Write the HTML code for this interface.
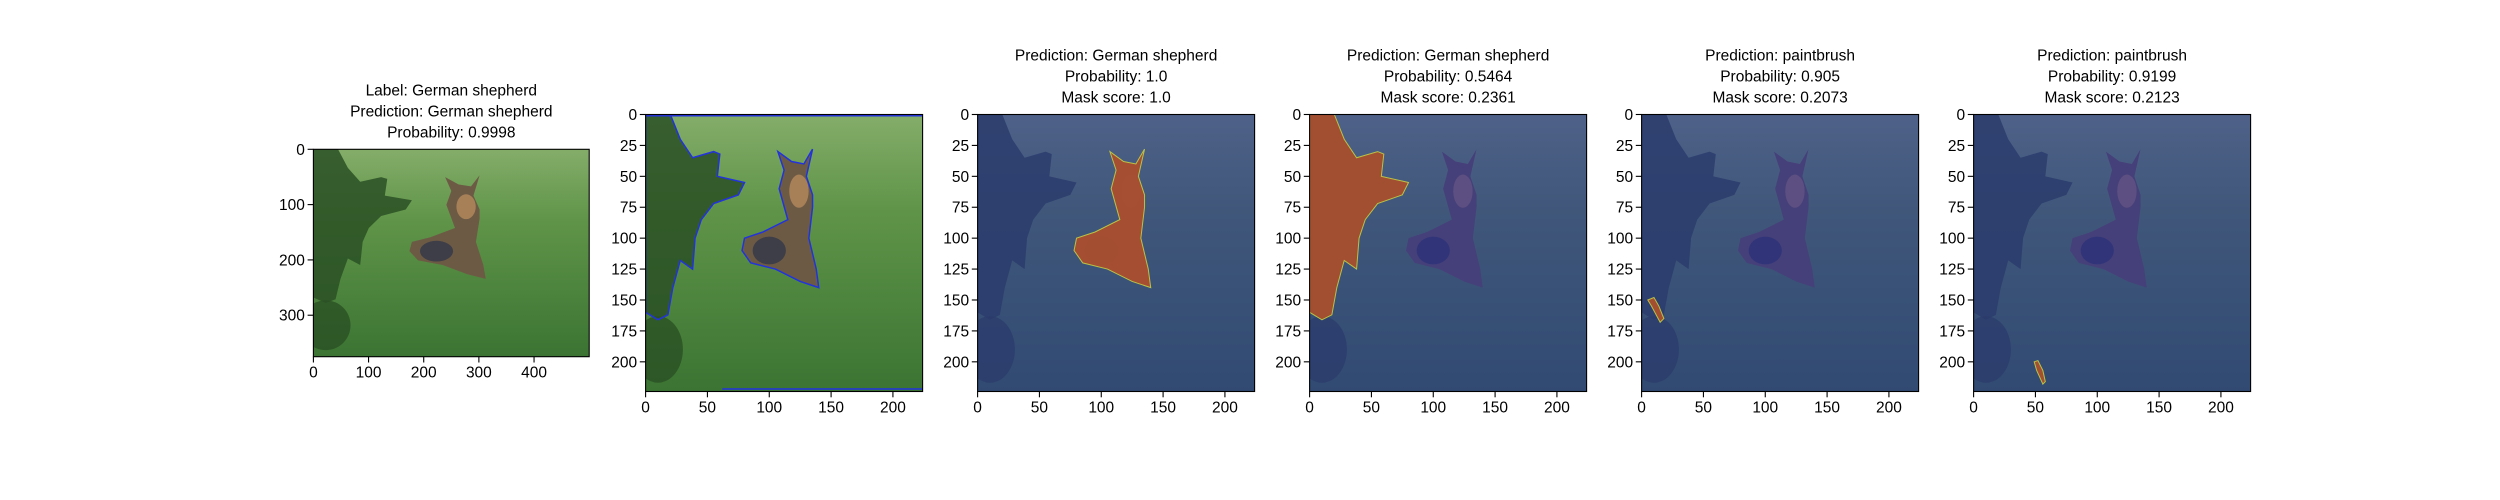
<!DOCTYPE html>
<html><head><meta charset="utf-8">
<style>
html,body{margin:0;padding:0;background:#fff;}
svg{display:block;}
text{font-family:"Liberation Sans","DejaVu Sans",sans-serif;font-size:15.5px;fill:#000;}
</style></head>
<body>
<svg id="fig" width="2500" height="500" viewBox="0 0 2500 500"></svg>
<script>
// ---- data ----
const panelTitles = [
  ["Label: German shepherd","Prediction: German shepherd","Probability: 0.9998"],
  [],
  ["Prediction: German shepherd","Probability: 1.0","Mask score: 1.0"],
  ["Prediction: German shepherd","Probability: 0.5464","Mask score: 0.2361"],
  ["Prediction: paintbrush","Probability: 0.905","Mask score: 0.2073"],
  ["Prediction: paintbrush","Probability: 0.9199","Mask score: 0.2123"]
];
const panelKinds = ["raw","contour","mask-dog","mask-tree","mask-spot1","mask-spot2"];
const imgWidths = [500,224,224,224,224,224];
const imgHeights = [375,224,224,224,224,224];
const xTicks1 = [0,100,200,300,400];
const yTicks1 = [0,100,200,300];
const xTicks224 = [0,50,100,150,200];
const yTicks224 = [0,25,50,75,100,125,150,175,200];
// shapes in 224-image coordinates
const dogX = [107,112,108,115,95,80,78,85,105,125,140,138,132,135,135,130,135,128,118];
const dogY = [30,45,60,85,95,100,110,120,125,135,140,125,100,75,65,50,28,40,38];
const treeX = [0,20,28,38,55,60,58,80,75,55,45,40,38,28,22,18,10,0];
const treeY = [0,0,20,35,30,32,50,55,65,72,85,100,125,118,140,162,166,160];
const spot1X = [5,10,14,18,15,8]; const spot1Y = [150,148,155,165,168,155];
const spot2X = [49,52,56,58,56,51]; const spot2Y = [200,199,207,216,218,207];

const svg = document.getElementById('fig');
const NS = 'http://www.w3.org/2000/svg';
function mk(tag, attrs, parent){const e=document.createElementNS(NS,tag);for(const k in attrs)e.setAttribute(k,attrs[k]);(parent||svg).appendChild(e);return e;}

const defs = mk('defs',{});
const g1 = mk('linearGradient',{id:'grass',x1:0,y1:0,x2:0,y2:1},defs);
mk('stop',{offset:'0','stop-color':'#84ad6a'},g1);
mk('stop',{offset:'0.35','stop-color':'#5f9448'},g1);
mk('stop',{offset:'1','stop-color':'#3b7433'},g1);

function panelGeom(i){
  if(i===0) return {L:313.4,T:149.3,W:275.8,H:207.4};
  return {L:645.6+332*(i-1),T:114.5,W:277,H:277};
}

for(let i=0;i<6;i++){
  const g = panelGeom(i), iw=imgWidths[i], ih=imgHeights[i];
  const sx = v=>g.L+v/iw*g.W, sy=v=>g.T+v/ih*g.H;
  const fx = v=>sx(v*iw/224), fy=v=>sy(v*ih/224);
  const pts=(X,Y)=>X.map((x,k)=>fx(x)+','+fy(Y[k])).join(' ');
  const ax = mk('g',{});
  
  
  const cp = mk('clipPath',{id:'cp'+i},defs);
  mk('rect',{x:g.L,y:g.T,width:g.W,height:g.H},cp);
  const img = mk('g',{'clip-path':'url(#cp'+i+')'},ax);
  
  
  mk('rect',{x:g.L,y:g.T,width:g.W,height:g.H,fill:'url(#grass)'},img);
  mk('polygon',{points:pts(treeX,treeY),fill:'#2a5024',opacity:0.85},img);
  mk('ellipse',{cx:fx(10),cy:fy(190),rx:g.W*0.09,ry:g.H*0.12,fill:'#2a5024',opacity:0.8},img);
  mk('polygon',{points:pts(dogX,dogY),fill:'#6d5a45'},img);
  mk('ellipse',{cx:fx(100),cy:fy(110),rx:g.W*0.06,ry:g.H*0.05,fill:'#3d3e48'},img);
  mk('ellipse',{cx:fx(124),cy:fy(62),rx:g.W*0.035,ry:g.H*0.06,fill:'#a78058'},img);
  const kind = panelKinds[i];
  if(kind==='contour'){
    const st={fill:'none',stroke:'#2233dd','stroke-width':1.5};
    mk('polygon',Object.assign({points:pts(dogX,dogY)},st),img);
    mk('polygon',Object.assign({points:pts(treeX,treeY)},st),img);
    mk('polyline',Object.assign({points:fx(0)+','+fy(1)+' '+fx(224)+','+fy(1)},st),img);
    mk('polyline',Object.assign({points:fx(62)+','+fy(222)+' '+fx(224)+','+fy(222)},st),img);
  }
  if(kind.startsWith('mask')){
    mk('rect',{x:g.L,y:g.T,width:g.W,height:g.H,fill:'#2b2f9c',opacity:0.6},img);
    let X=null,Y=null;
    if(kind==='mask-dog'){X=dogX;Y=dogY;}
    if(kind==='mask-tree'){X=treeX;Y=treeY;}
    if(kind==='mask-spot1'){X=spot1X;Y=spot1Y;}
    if(kind==='mask-spot2'){X=spot2X;Y=spot2Y;}
    const m=mk('polygon',{points:pts(X,Y),fill:'#b0502a',opacity:0.9,stroke:'#c8d040','stroke-width':1},img);
    
    
  }
  mk('rect',{x:g.L,y:g.T,width:g.W,height:g.H,fill:'none',stroke:'#000','stroke-width':1.1},ax);
  const xt = i===0?xTicks1:xTicks224, yt=i===0?yTicks1:yTicks224;
  xt.forEach(v=>{
    mk('line',{x1:sx(v),x2:sx(v),y1:g.T+g.H,y2:g.T+g.H+5.8,stroke:'#000','stroke-width':1.1},ax);
    const t=mk('text',{x:sx(v),y:g.T+g.H+21,'text-anchor':'middle'},ax);t.textContent=v;
    
    
  });
  yt.forEach(v=>{
    mk('line',{x1:g.L,x2:g.L-5.8,y1:sy(v),y2:sy(v),stroke:'#000','stroke-width':1.1},ax);
    const t=mk('text',{x:g.L-8.5,y:sy(v)+5.5,'text-anchor':'end'},ax);t.textContent=v;
    
    
  });
  const lines=panelTitles[i];
  lines.forEach((s,k)=>{
    const t=mk('text',{x:g.L+g.W/2,y:g.T-12-(lines.length-1-k)*21,'text-anchor':'middle','font-size':'16.5px'},ax);
    t.textContent=s;
    
    
  });
}
</script>
</body></html>
